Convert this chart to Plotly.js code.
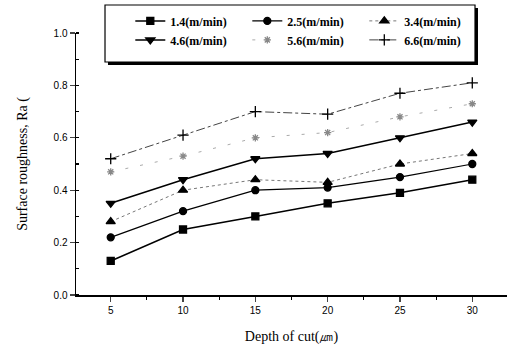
<!DOCTYPE html>
<html>
<head>
<meta charset="utf-8">
<script src="https://cdn.plot.ly/plotly-3.0.1.min.js"></script>
<style>html,body{margin:0;padding:0;background:#fff;}#chart{width:511px;height:352px;}</style>
</head>
<body>
<div id="chart"></div>
<script>
var depth = [5, 10, 15, 20, 25, 30];
var seriesNames = ['1.4(m/min)', '2.5(m/min)', '3.4(m/min)', '4.6(m/min)', '5.6(m/min)', '6.6(m/min)'];
var ra_1_4 = [0.13, 0.25, 0.30, 0.35, 0.39, 0.44];
var ra_2_5 = [0.22, 0.32, 0.40, 0.41, 0.45, 0.50];
var ra_3_4 = [0.28, 0.40, 0.44, 0.43, 0.50, 0.54];
var ra_4_6 = [0.35, 0.44, 0.52, 0.54, 0.60, 0.66];
var ra_5_6 = [0.47, 0.53, 0.60, 0.62, 0.68, 0.73];
var ra_6_6 = [0.52, 0.61, 0.70, 0.69, 0.77, 0.81];
var xTicks = [5, 10, 15, 20, 25, 30];
var yTicks = [0, 0.2, 0.4, 0.6, 0.8, 1.0];
var yTickText = ['0.0', '0.2', '0.4', '0.6', '0.8', '1.0'];

var values = [ra_1_4, ra_2_5, ra_3_4, ra_4_6, ra_5_6, ra_6_6];
var styles = [
  {sym: 'square', size: 7, color: '#000', lcolor: '#000', dash: 'solid', lw: 1.5},
  {sym: 'circle', size: 7, color: '#000', lcolor: '#000', dash: 'solid', lw: 1.2},
  {sym: 'triangle-up', size: 8, color: '#000', lcolor: '#777', dash: 'dot', lw: 1},
  {sym: 'triangle-down', size: 8, color: '#000', lcolor: '#000', dash: 'solid', lw: 1.5},
  {sym: 'asterisk-open', size: 6, color: '#888', lcolor: '#aaa', dash: '3px,12px', lw: 1},
  {sym: 'cross-thin-open', size: 8, color: '#000', lcolor: '#444', dash: 'dashdot', lw: 1}
];

var traces = values.map(function (v, i) {
  var s = styles[i];
  return {
    x: depth, y: v, name: seriesNames[i], type: 'scatter', mode: 'lines+markers',
    line: {color: s.lcolor, width: s.lw, dash: s.dash},
    marker: {symbol: s.sym, size: s.size, color: s.color, line: {color: s.color, width: 1.3}}
  };
});

var layout = {
  width: 511, height: 352,
  margin: {l: 76, r: 4, t: 33, b: 57},
  paper_bgcolor: '#fff', plot_bgcolor: '#fff',
  showlegend: true,
  font: {family: 'Liberation Serif', color: '#000'},
  xaxis: {
    range: [2.6, 32.4], tickvals: xTicks, ticks: 'outside', ticklen: 5, tickwidth: 1.2,
    showline: true, linecolor: '#000', linewidth: 1.5, showgrid: false, zeroline: false,
    tickfont: {family: 'Liberation Sans', size: 10, color: '#000'},
    minor: {dtick: 2.5, tick0: 2.5, ticks: 'outside', ticklen: 3, tickcolor: '#000', showgrid: false},
    title: {text: 'Depth of cut(㎛)', font: {family: 'Liberation Serif', size: 14, color: '#000'}, standoff: 16}
  },
  yaxis: {
    range: [0, 1.0], tickvals: yTicks, ticktext: yTickText, ticks: 'outside', ticklen: 5, tickwidth: 1.2,
    showline: true, linecolor: '#000', linewidth: 1.5, showgrid: false, zeroline: false,
    tickfont: {family: 'Liberation Sans', size: 10, color: '#000'},
    minor: {dtick: 0.1, ticks: 'inside', ticklen: 3, tickcolor: '#000', showgrid: false},
    title: {text: 'Surface roughness, Ra (', font: {family: 'Liberation Serif', size: 14, color: '#000'}, standoff: 22}
  },
  legend: {
    orientation: 'h', x: 0.126, xanchor: 'left', y: 1.01, yanchor: 'middle',
    bgcolor: 'rgba(0,0,0,0)', borderwidth: 0,
    entrywidth: 72, entrywidthmode: 'pixels',
    font: {family: 'Liberation Serif', size: 12, color: '#000', weight: 'bold'},
    itemwidth: 30
  },
  shapes: [
    {type: 'rect', xref: 'paper', yref: 'paper', layer: 'above',
     x0: 0.0742, x1: 0.9327, y0: 0.8779, y1: 1.0954, fillcolor: '#000', line: {width: 0}},
    {type: 'rect', xref: 'paper', yref: 'paper', layer: 'above',
     x0: 0.0673, x1: 0.9258, y0: 0.8893, y1: 1.1069, fillcolor: '#fff', line: {color: '#000', width: 1.2}}
  ]
};

Plotly.newPlot('chart', traces, layout, {displayModeBar: false, staticPlot: true});
</script>
</body>
</html>
